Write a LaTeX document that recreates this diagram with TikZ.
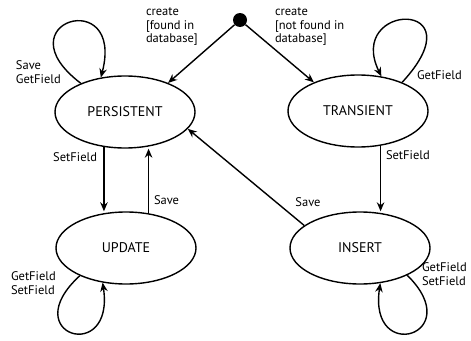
\documentclass[tikz,border=0pt]{standalone}
\usepackage{fontspec}
\setmainfont{PT Sans}
\usetikzlibrary{shapes,arrows.meta}

\begin{document}
\begin{tikzpicture}[x=1pt,y=-1pt,
  state/.style={draw=drawColor,ellipse,line width=1.4pt,minimum width=140pt,minimum height=72pt,inner sep=0pt,text=drawColor,font=\fontsize{14}{16}\selectfont},
  edge/.style={draw=drawColor,line width=1.4pt,-{Stealth[length=9pt,width=7.5pt]}},
  lbl/.style={text=drawColor,inner sep=0pt,outer sep=0pt,align=left,font=\fontsize{12.5}{13.5}\selectfont}]
\definecolor{drawColor}{RGB}{0,0,0}
\definecolor{fillColor}{RGB}{255,255,255}
\path[use as bounding box,fill=fillColor] (0,0) rectangle (471,340);

\node[state] (persistent) at (125,112) {PERSISTENT};
\node[state] (transient) at (358,111) {TRANSIENT};
\node[state] (update) at (126,248) {UPDATE};
\node[state] (insert) at (360,248) {INSERT};
\node[circle,fill=drawColor,minimum size=14pt,inner sep=0pt] (start) at (240,20) {};

\draw[edge] (start) -- (persistent.34);
\draw[edge] (start) -- (transient.147);
\draw[edge] (persistent.147) .. controls (0,22) and (125,-15) .. (persistent.125);
\draw[edge] (transient.33) .. controls (480,-2) and (345,2) .. (transient.56);
\draw[edge] (update.211) .. controls (15,335) and (115,365) .. (update.236);
\draw[edge] (insert.-30) .. controls (468,335) and (368,365) .. (insert.-60);
\draw[edge] (persistent.-121) -- (persistent.-121 |- update.north);
\draw[edge] (update.57) -- (update.57 |- persistent.south);
\draw[edge] (transient.-57) -- (transient.-57 |- insert.north);
\draw[edge] (insert.158) -- (persistent.-15);

\node[lbl,anchor=west] (createfound) at (146,27) {create\\{[}found in\\database{]}};
\node[lbl,anchor=west] (createnew) at (275,27) {create\\{[}not found in\\database{]}};
\node[lbl,anchor=west] (persloop) at (16,72) {Save\\GetField};
\node[lbl,anchor=west] (transloop) at (417,75) {GetField};
\node[lbl,anchor=east] (toupdate) at (97,157) {SetField};
\node[lbl,anchor=west] (fromupdate) at (154,200) {Save};
\node[lbl,anchor=west] (toinsert) at (386,155) {SetField};
\node[lbl] (frominsert) at (308,202) {Save};
\node[lbl,anchor=west] (updloop) at (11,283) {GetField\\SetField};
\node[lbl,anchor=west] (insloop) at (422,274) {GetField\\SetField};
\end{tikzpicture}
\end{document}
